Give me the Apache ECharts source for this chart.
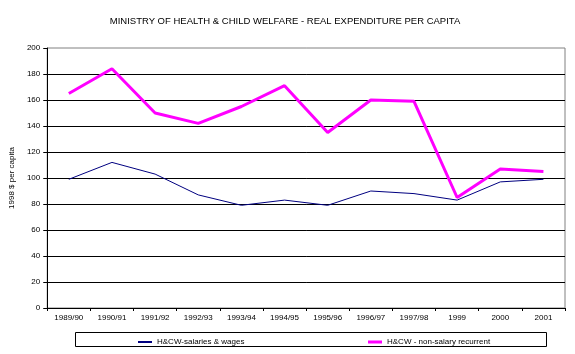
<!DOCTYPE html>
<html>
<head>
<meta charset="utf-8">
<script src="https://cdn.jsdelivr.net/npm/echarts@6/dist/echarts.min.js"></script>
<style>
  html, body { margin: 0; padding: 0; background: #fff; }
  #chart { width: 575px; height: 354px; }
</style>
</head>
<body>
<div id="chart"></div>
<script>
  // data
  var years = ['1989/90', '1990/91', '1991/92', '1992/93', '1993/94', '1994/95',
               '1995/96', '1996/97', '1997/98', '1999', '2000', '2001'];
  var salaries = [99, 112, 103, 87, 79, 83, 79, 90, 88, 83, 97, 99];
  var nonSalary = [165, 184, 150, 142, 155, 171, 135, 160, 159, 85, 107, 105];
  var yTicks = { min: 0, max: 200, interval: 20 };

  var font = 'Liberation Sans';
  var chart = echarts.init(document.getElementById('chart'));

  chart.setOption({
    animation: false,
    backgroundColor: '#fff',
    title: {
      text: 'MINISTRY OF HEALTH & CHILD WELFARE - REAL EXPENDITURE PER CAPITA',
      left: 280, top: 11, textAlign: 'center',
      textStyle: { fontFamily: font, fontSize: 9.5, fontWeight: 'normal', color: '#000' }
    },
    grid: { left: 46, right: 10, top: 48, bottom: 46, show: true, borderColor: '#808080', borderWidth: 1 },
    // box round the legend
    graphic: [{
      type: 'rect', left: 75, top: 332,
      shape: { width: 471, height: 14 },
      style: { fill: '#fff', stroke: '#000', lineWidth: 1 }
    }],
    legend: [
      {
        data: ['H&CW-salaries & wages'], left: 133, top: 333,
        itemWidth: 14, itemHeight: 2, icon: 'rect',
        textStyle: { fontFamily: font, fontSize: 8, color: '#000' }
      },
      {
        data: ['H&CW - non-salary recurrent'], left: 363, top: 333,
        itemWidth: 14, itemHeight: 3, icon: 'rect',
        textStyle: { fontFamily: font, fontSize: 8, color: '#000' }
      }
    ],
    xAxis: {
      type: 'category', data: years, boundaryGap: true,
      axisLine: { lineStyle: { color: '#000', width: 1 } },
      axisTick: { show: true, length: 3, inside: false, lineStyle: { color: '#000' } },
      axisLabel: { fontFamily: font, fontSize: 8, color: '#000', margin: 6, interval: 0 }
    },
    yAxis: {
      type: 'value', min: yTicks.min, max: yTicks.max, interval: yTicks.interval,
      name: '1998 $ per capita', nameLocation: 'middle', nameGap: 31, nameRotate: 90,
      nameTextStyle: { fontFamily: font, fontSize: 8, color: '#000' },
      axisLine: { show: true, lineStyle: { color: '#000', width: 1 } },
      axisTick: { show: true, length: 4, lineStyle: { color: '#000' } },
      axisLabel: { fontFamily: font, fontSize: 8, color: '#000', margin: 7 },
      splitLine: { show: true, showMaxLine: false, lineStyle: { color: '#000', width: 1 } }
    },
    series: [
      {
        name: 'H&CW-salaries & wages', type: 'line', data: salaries,
        symbol: 'none', color: '#000080',
        lineStyle: { color: '#000080', width: 1 }
      },
      {
        name: 'H&CW - non-salary recurrent', type: 'line', data: nonSalary,
        symbol: 'none', color: '#FF00FF',
        lineStyle: { color: '#FF00FF', width: 3 }
      }
    ]
  });
</script>
</body>
</html>
